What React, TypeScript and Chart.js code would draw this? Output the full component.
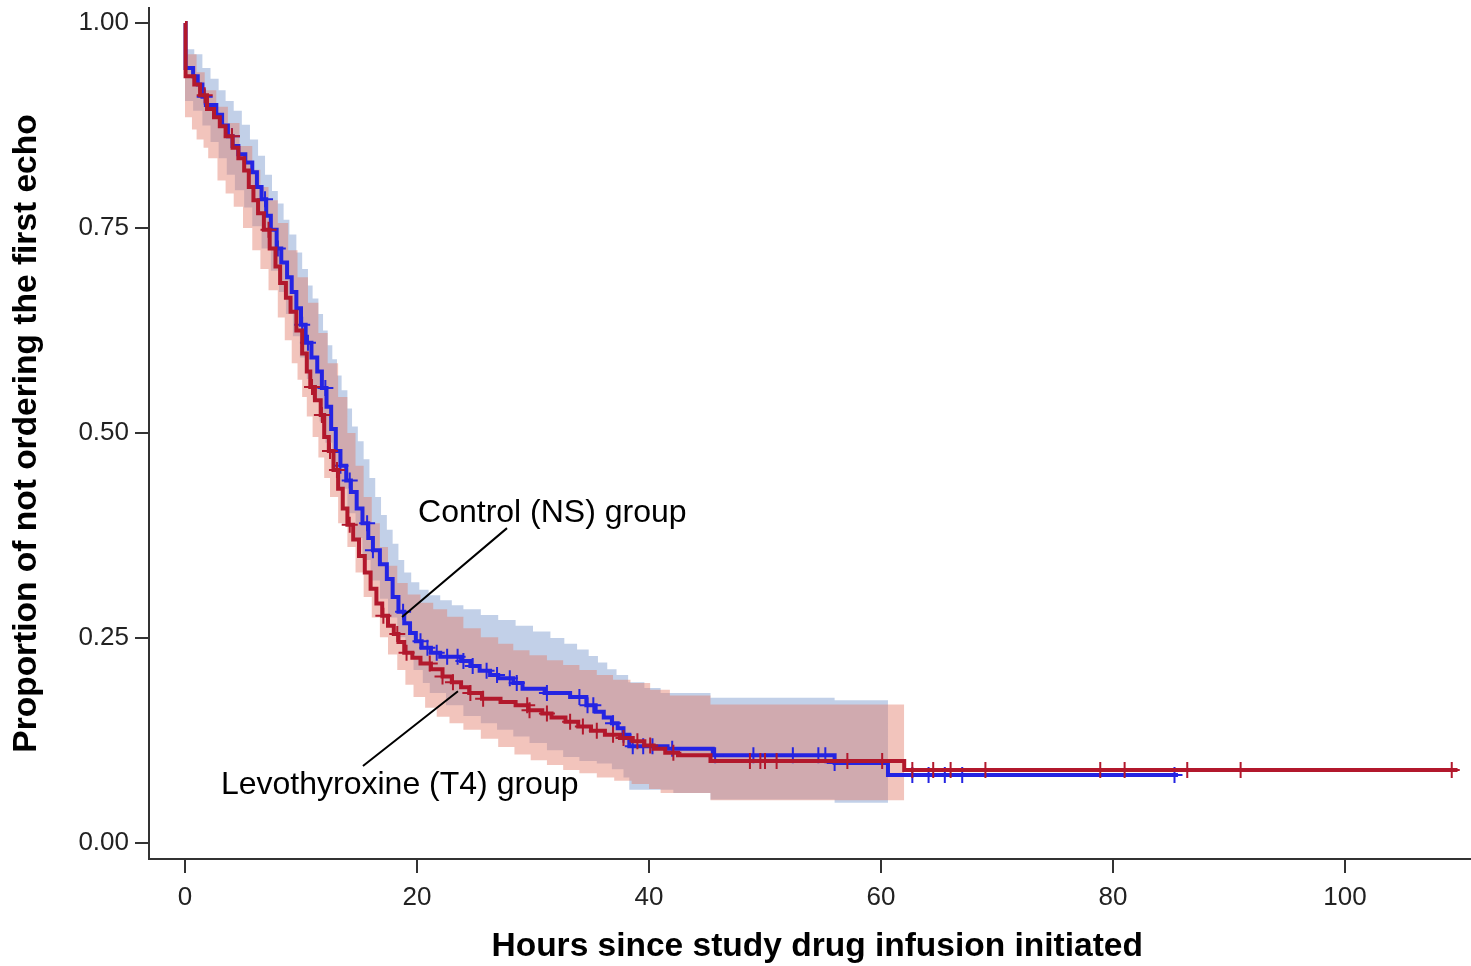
import React, { useEffect, useRef } from 'react';
import { Chart, registerables } from 'chart.js';

Chart.register(...registerables);

// ---- axis ticks ----
const xTickValues = [0, 20, 40, 60, 80, 100];
const yTickValues = [0, 0.25, 0.5, 0.75, 1.0];

// ---- Kaplan-Meier step curves: [hours, proportion] (value holds until next time) ----
const controlKM: [number, number][] = [
  [0, 1.0], [0.05, 0.945], [0.7, 0.935], [1.1, 0.925], [1.5, 0.91], [1.8, 0.9], [2.7, 0.888],
  [3.2, 0.875], [3.7, 0.862], [4.1, 0.85], [4.6, 0.84], [5.2, 0.83], [5.8, 0.818], [6.2, 0.8],
  [6.6, 0.785], [7.0, 0.765], [7.4, 0.748], [7.9, 0.725], [8.3, 0.708], [8.8, 0.69], [9.2, 0.672],
  [9.6, 0.652], [10.0, 0.632], [10.4, 0.61], [10.9, 0.592], [11.4, 0.575], [11.8, 0.555],
  [12.2, 0.532], [12.6, 0.505], [13.0, 0.478], [13.4, 0.46], [13.9, 0.442], [14.3, 0.428],
  [14.8, 0.408], [15.3, 0.39], [15.8, 0.372], [16.2, 0.357], [16.8, 0.34], [17.4, 0.322],
  [17.9, 0.3], [18.4, 0.282], [18.9, 0.268], [19.4, 0.256], [19.9, 0.246], [20.4, 0.238],
  [21.2, 0.232], [22.0, 0.227], [23.8, 0.222], [24.6, 0.216], [25.4, 0.21], [26.3, 0.205],
  [27.0, 0.201], [28.3, 0.195], [29.1, 0.188], [31.0, 0.183], [33.2, 0.178], [34.6, 0.168],
  [35.4, 0.16], [36.1, 0.153], [36.8, 0.146], [37.3, 0.14], [37.8, 0.132], [38.3, 0.118],
  [41.6, 0.115], [45.5, 0.107], [56.0, 0.0975], [60.6, 0.083], [85.6, 0.083],
];

const t4KM: [number, number][] = [
  [0, 1.0], [0.05, 0.935], [0.8, 0.925], [1.3, 0.912], [1.9, 0.895], [2.5, 0.885], [3.0, 0.874],
  [3.5, 0.862], [4.1, 0.848], [4.6, 0.835], [5.1, 0.82], [5.5, 0.8], [5.9, 0.784], [6.3, 0.768],
  [6.8, 0.748], [7.3, 0.725], [7.8, 0.703], [8.2, 0.683], [8.7, 0.665], [9.1, 0.648], [9.6, 0.625],
  [10.1, 0.597], [10.5, 0.575], [10.8, 0.556], [11.2, 0.54], [11.7, 0.522], [12.0, 0.495],
  [12.4, 0.478], [12.8, 0.455], [13.2, 0.432], [13.6, 0.408], [14.0, 0.388], [14.5, 0.37],
  [15.0, 0.35], [15.5, 0.33], [16.0, 0.31], [16.5, 0.292], [17.0, 0.277], [17.5, 0.265],
  [18.0, 0.255], [18.4, 0.245], [18.9, 0.232], [19.6, 0.226], [20.3, 0.219], [21.2, 0.212],
  [22.2, 0.203], [23.0, 0.196], [23.8, 0.19], [24.5, 0.183], [25.6, 0.176], [27.2, 0.172],
  [28.5, 0.168], [29.6, 0.162], [30.8, 0.158], [31.6, 0.153], [32.8, 0.148], [33.9, 0.142],
  [35.0, 0.137], [36.2, 0.132], [37.5, 0.128], [38.6, 0.124], [39.6, 0.119], [40.4, 0.115],
  [41.4, 0.11], [42.5, 0.107], [45.3, 0.1], [62.0, 0.089], [109.7, 0.089],
];

// ---- 95% confidence bands: [hours, bound] ----
const controlUpper: [number, number][] = [
  [0, 0.968], [0.8, 0.962], [1.5, 0.945], [2.2, 0.932], [2.9, 0.918], [3.5, 0.905], [4.2, 0.893],
  [4.9, 0.876], [5.6, 0.858], [6.3, 0.838], [6.9, 0.815], [7.5, 0.795], [8.0, 0.78], [8.5, 0.76],
  [9.0, 0.742], [9.6, 0.72], [10.1, 0.7], [10.6, 0.68], [11.0, 0.664], [11.5, 0.645],
  [11.9, 0.625], [12.3, 0.607], [12.7, 0.59], [13.1, 0.57], [13.5, 0.552], [14.0, 0.53],
  [14.4, 0.508], [14.9, 0.49], [15.4, 0.468], [15.9, 0.445], [16.4, 0.422], [16.9, 0.4],
  [17.4, 0.382], [17.9, 0.365], [18.4, 0.345], [18.9, 0.33], [19.5, 0.318], [20.2, 0.309],
  [21.0, 0.302], [22.0, 0.296], [23.0, 0.29], [24.0, 0.285], [25.5, 0.278], [27.0, 0.272],
  [28.5, 0.265], [30.0, 0.258], [31.5, 0.25], [32.7, 0.243], [33.8, 0.236], [34.8, 0.228],
  [35.6, 0.22], [36.4, 0.212], [37.2, 0.205], [38.2, 0.196], [39.6, 0.189], [41.0, 0.183],
  [45.3, 0.177], [56.0, 0.174], [60.6, 0.174],
];

const controlLower: [number, number][] = [
  [0, 0.905], [0.7, 0.893], [1.5, 0.875], [2.2, 0.855], [2.9, 0.835], [3.6, 0.815], [4.3, 0.796],
  [5.1, 0.775], [5.8, 0.752], [6.6, 0.725], [7.4, 0.698], [8.1, 0.672], [8.7, 0.645], [9.3, 0.618],
  [9.9, 0.592], [10.5, 0.566], [11.0, 0.542], [11.6, 0.514], [12.1, 0.488], [12.7, 0.46],
  [13.3, 0.432], [14.0, 0.402], [14.7, 0.372], [15.3, 0.345], [16.0, 0.32], [16.8, 0.298],
  [17.5, 0.275], [18.3, 0.251], [19.0, 0.23], [19.7, 0.211], [20.5, 0.195], [21.1, 0.183],
  [22.5, 0.168], [24.0, 0.155], [25.5, 0.146], [26.9, 0.138], [28.3, 0.13], [29.7, 0.122],
  [31.2, 0.113], [32.6, 0.105], [34.0, 0.1], [35.5, 0.097], [36.8, 0.09], [37.8, 0.08],
  [38.3, 0.065], [42.1, 0.061], [45.3, 0.053], [56.0, 0.049], [60.6, 0.049],
];

const t4Upper: [number, number][] = [
  [0, 0.962], [1.0, 0.94], [1.7, 0.918], [2.7, 0.898], [3.7, 0.878], [4.7, 0.85], [5.8, 0.821],
  [6.5, 0.8], [7.2, 0.784], [8.0, 0.756], [8.9, 0.723], [9.7, 0.69], [10.6, 0.659], [11.5, 0.622],
  [12.3, 0.585], [13.2, 0.544], [14.0, 0.5], [14.7, 0.46], [15.4, 0.422], [16.1, 0.39],
  [16.8, 0.361], [17.5, 0.338], [18.3, 0.317], [19.2, 0.303], [20.3, 0.293], [21.4, 0.285],
  [22.6, 0.276], [24.0, 0.262], [25.5, 0.251], [27.0, 0.243], [28.3, 0.235], [29.7, 0.229],
  [31.2, 0.223], [32.6, 0.217], [34.0, 0.211], [35.5, 0.205], [36.9, 0.199], [38.4, 0.195],
  [40.1, 0.187], [41.8, 0.18], [45.3, 0.169], [62.0, 0.169],
];

const t4Lower: [number, number][] = [
  [0, 0.885], [0.6, 0.87], [1.0, 0.858], [1.6, 0.848], [2.0, 0.835], [2.8, 0.808], [3.5, 0.792],
  [4.2, 0.776], [5.0, 0.75], [5.8, 0.723], [6.5, 0.7], [7.2, 0.674], [8.0, 0.641], [8.6, 0.613],
  [9.2, 0.585], [9.7, 0.565], [10.1, 0.544], [10.5, 0.52], [11.0, 0.495], [11.5, 0.47],
  [12.0, 0.445], [12.5, 0.422], [13.2, 0.39], [14.0, 0.361], [14.7, 0.33], [15.4, 0.3],
  [16.1, 0.275], [16.8, 0.251], [17.5, 0.23], [18.3, 0.211], [19.0, 0.193], [19.7, 0.178],
  [20.7, 0.165], [21.7, 0.154], [22.8, 0.146], [24.0, 0.138], [25.5, 0.127], [27.0, 0.117],
  [28.4, 0.108], [29.8, 0.101], [31.2, 0.095], [32.6, 0.089], [34.0, 0.085], [35.5, 0.08],
  [37.0, 0.076], [38.5, 0.072], [40.0, 0.066], [41.0, 0.061], [45.3, 0.052], [62.0, 0.052],
];

// ---- censoring times (hours) ----
const controlCensor: number[] = [
  1.7, 4.05, 6.9, 8.0, 10.1, 10.6, 12.1, 13.4, 14.2, 15.7, 16.2, 18.8, 20.3, 20.9, 21.7, 22.6,
  23.5, 24.0, 24.8, 26.0, 26.9, 28.0, 28.6, 31.2, 34.0, 34.7, 35.2, 36.9, 37.8, 38.6, 39.5,
  40.3, 42.0, 45.7, 49.0, 52.4, 54.6, 55.2, 56.0, 62.7, 64.1, 65.5, 67.0, 85.3,
];

const t4Censor: number[] = [
  1.7, 4.05, 7.2, 10.95, 11.8, 12.5, 13.1, 14.2, 17.1, 18.3, 19.1, 21.1, 22.2, 23.1, 24.6, 25.7,
  29.5, 29.7, 31.2, 33.2, 34.3, 35.5, 36.9, 37.8, 39.0, 40.1, 42.1, 48.7, 49.6, 50.0, 51.0,
  57.1, 60.1, 62.7, 64.5, 66.0, 69.0, 78.9, 81.0, 86.4, 91.0, 109.2,
];

function stepValue(km: [number, number][], t: number): number {
  let v = km[0][1];
  for (const [time, val] of km) {
    if (time <= t) v = val;
    else break;
  }
  return v;
}

const toPts = (arr: [number, number][]) => arr.map(([x, y]) => ({ x, y }));

const BLUE = 'rgb(36,36,226)';
const RED = 'rgb(178,24,44)';
const BLUE_BAND = 'rgba(120,150,205,0.45)';
const RED_BAND = 'rgba(226,124,106,0.45)';
const FONT = '"Liberation Sans", Arial, Helvetica, sans-serif';
const X_TITLE = 'Hours since study drug infusion initiated';

const labelPlugin = {
  id: 'kmLabels',
  afterDatasetsDraw(chart: any) {
    const { ctx, scales } = chart;
    const x = scales.x;
    const y = scales.y;
    const px = (v: number) => x.getPixelForValue(v);
    const py = (v: number) => y.getPixelForValue(v);
    ctx.save();
    ctx.strokeStyle = '#000';
    ctx.lineWidth = 2;
    ctx.beginPath();
    ctx.moveTo(px(27.76), py(0.384));
    ctx.lineTo(px(18.71), py(0.2756));
    ctx.moveTo(px(23.53), py(0.185));
    ctx.lineTo(px(15.34), py(0.094));
    ctx.stroke();
    ctx.fillStyle = '#000';
    ctx.font = `32px ${FONT}`;
    ctx.textBaseline = 'middle';
    ctx.textAlign = 'left';
    ctx.fillText('Control (NS) group', px(20.09), py(0.402));
    ctx.fillText('Levothyroxine (T4) group', px(3.1), py(0.0707));
    // x-axis title, centred slightly right of the plot centre as in the original
    ctx.font = `bold 33.5px ${FONT}`;
    ctx.textAlign = 'center';
    ctx.fillText(X_TITLE, px(54.5), x.bottom - 19);
    ctx.restore();
  },
};

export default function App() {
  const ref = useRef<HTMLCanvasElement | null>(null);

  useEffect(() => {
    if (!ref.current) return;
    const lineBase = {
      stepped: 'before' as const,
      pointRadius: 0,
      pointHoverRadius: 0,
    };
    const chart = new Chart(ref.current, {
      type: 'line',
      data: {
        datasets: [
          {
            ...lineBase,
            label: 'Control upper',
            data: toPts(controlUpper),
            borderWidth: 0,
            borderColor: 'rgba(0,0,0,0)',
            backgroundColor: BLUE_BAND,
            fill: '+1',
            order: 9,
          },
          {
            ...lineBase,
            label: 'Control lower',
            data: toPts(controlLower),
            borderWidth: 0,
            borderColor: 'rgba(0,0,0,0)',
            fill: false,
            order: 10,
          },
          {
            ...lineBase,
            label: 'T4 upper',
            data: toPts(t4Upper),
            borderWidth: 0,
            borderColor: 'rgba(0,0,0,0)',
            backgroundColor: RED_BAND,
            fill: '+1',
            order: 7,
          },
          {
            ...lineBase,
            label: 'T4 lower',
            data: toPts(t4Lower),
            borderWidth: 0,
            borderColor: 'rgba(0,0,0,0)',
            fill: false,
            order: 8,
          },
          {
            ...lineBase,
            label: 'Control (NS) group',
            data: toPts(controlKM),
            borderColor: BLUE,
            borderWidth: 4,
            fill: false,
            order: 4,
          },
          {
            label: 'Control censored',
            data: controlCensor.map((t) => ({ x: t, y: stepValue(controlKM, t) })),
            showLine: false,
            pointStyle: 'cross',
            pointRadius: 8,
            pointBorderWidth: 2,
            pointBorderColor: BLUE,
            borderColor: BLUE,
            order: 3,
          },
          {
            ...lineBase,
            label: 'Levothyroxine (T4) group',
            data: toPts(t4KM),
            borderColor: RED,
            borderWidth: 4,
            fill: false,
            order: 2,
          },
          {
            label: 'T4 censored',
            data: t4Censor.map((t) => ({ x: t, y: stepValue(t4KM, t) })),
            showLine: false,
            pointStyle: 'cross',
            pointRadius: 8,
            pointBorderWidth: 2,
            pointBorderColor: RED,
            borderColor: RED,
            order: 1,
          },
        ],
      },
      options: {
        animation: false,
        responsive: false,
        maintainAspectRatio: false,
        events: [],
        layout: { autoPadding: false, padding: { top: 8, left: 0, right: 0, bottom: 0 } },
        plugins: {
          legend: { display: false },
          tooltip: { enabled: false },
        },
        scales: {
          x: {
            type: 'linear',
            min: -3.103,
            max: 110.86,
            afterBuildTicks: (s: any) => {
              s.ticks = xTickValues.map((v) => ({ value: v }));
            },
            afterFit: (s: any) => {
              s.height = 107;
              s.paddingLeft = 0;
              s.paddingRight = 0;
              s.paddingTop = 0;
              s.paddingBottom = 0;
            },
            border: { display: true, color: '#333', width: 2 },
            grid: {
              display: true,
              drawOnChartArea: false,
              drawTicks: true,
              tickLength: 14,
              color: '#333',
              lineWidth: 2,
            },
            ticks: {
              color: '#222',
              font: { family: FONT, size: 26 },
              padding: 9,
              maxRotation: 0,
              autoSkip: false,
              callback: (v: any) => String(v),
            },
            title: { display: false },
          },
          y: {
            type: 'linear',
            min: -0.0195,
            max: 1.0183,
            afterBuildTicks: (s: any) => {
              s.ticks = yTickValues.map((v) => ({ value: v }));
            },
            afterFit: (s: any) => {
              s.width = 149;
              s.paddingLeft = 0;
              s.paddingRight = 0;
              s.paddingTop = 0;
              s.paddingBottom = 0;
            },
            border: { display: true, color: '#333', width: 2 },
            grid: {
              display: true,
              drawOnChartArea: false,
              drawTicks: true,
              tickLength: 14,
              color: '#333',
              lineWidth: 2,
            },
            ticks: {
              color: '#222',
              font: { family: FONT, size: 26 },
              padding: 6,
              autoSkip: false,
              callback: (v: any) => Number(v).toFixed(2),
            },
            title: {
              display: true,
              text: 'Proportion of not ordering the first echo',
              color: '#000',
              font: { family: FONT, size: 33.5, weight: 'bold' },
              padding: { top: 7, bottom: 0 },
            },
          },
        },
      },
      plugins: [labelPlugin],
    });
    return () => chart.destroy();
  }, []);

  return (
    <div style={{ position: 'absolute', left: 0, top: 0, width: 1471, height: 966, background: '#fff' }}>
      <canvas ref={ref} width={1471} height={966} style={{ display: 'block', width: 1471, height: 966 }} />
    </div>
  );
}
